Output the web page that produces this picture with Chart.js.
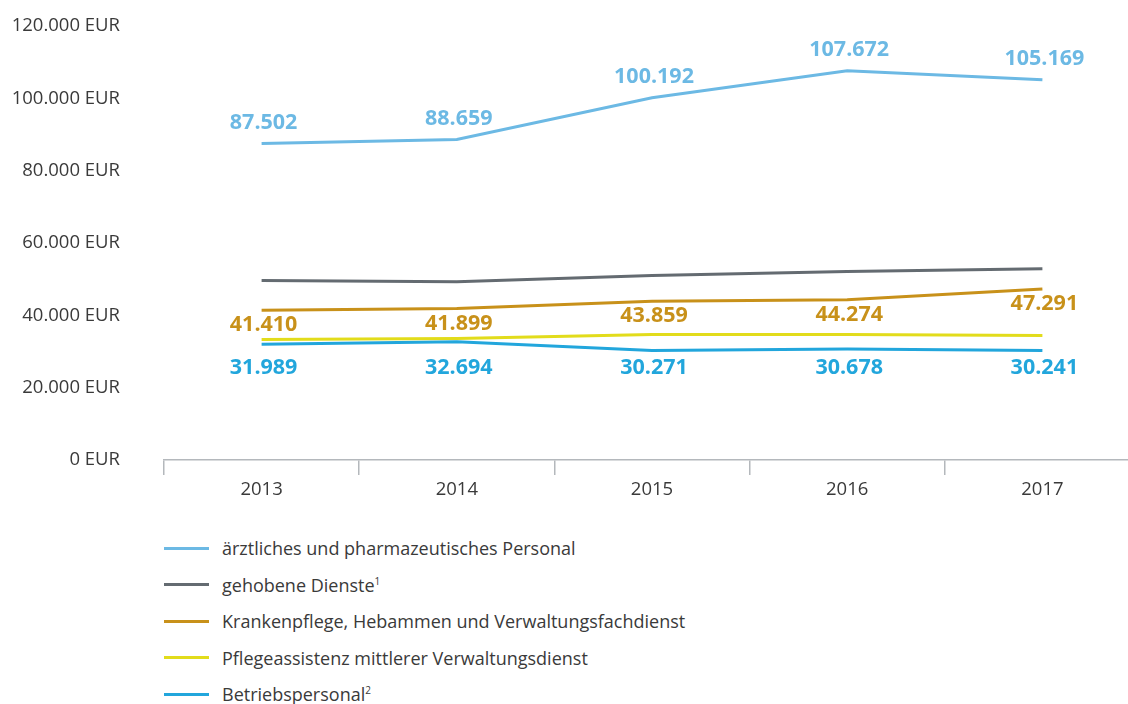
<!DOCTYPE html>
<html lang="de">
<head>
<meta charset="utf-8">
<script src="https://cdn.jsdelivr.net/npm/chart.js@4.4.1/dist/chart.umd.min.js"></script>
<style>
  html, body { margin: 0; padding: 0; background: #fff; overflow: hidden; }
  body { width: 1128px; height: 704px; font-family: 'Open Sans', sans-serif; position: relative; }
  #wrap { position: absolute; left: 0; top: -29px; width: 1140px; height: 544px; }
  #legend { position: absolute; left: 164px; top: 530px; color: #3a3a3a; font-size: 18px; }
  #legend .item { display: flex; align-items: center; height: 36.5px; }
  #legend .swatch { width: 45px; height: 3px; margin-right: 13px; }
  #legend sup { font-size: 10px; vertical-align: 7px; line-height: 0; }
</style>
</head>
<body>
<div id="wrap"><canvas id="chart"></canvas></div>
<div id="legend"></div>
<script>
const years = ['2013', '2014', '2015', '2016', '2017'];
const seriesNames = [
  'ärztliches und pharmazeutisches Personal',
  'gehobene Dienste<sup>1</sup>',
  'Krankenpflege, Hebammen und Verwaltungsfachdienst',
  'Pflegeassistenz mittlerer Verwaltungsdienst',
  'Betriebspersonal<sup>2</sup>'
];
const aerztlich = [87502, 88659, 100192, 107672, 105169];
const gehoben = [49600, 49300, 51000, 52100, 52900];
const krankenpflege = [41410, 41899, 43859, 44274, 47291];
const pflegeassistenz = [33300, 33600, 34700, 34700, 34400];
const betrieb = [31989, 32694, 30271, 30678, 30241];
const colors = ['#6cb9e4', '#646b71', '#c8911a', '#e2dc1b', '#22a6dc'];
// value labels: 'above' / 'below' the point, 'row' = one row under the lowest point
const labelModes = ['above', null, 'below', null, 'row'];

const fmt = v => v.toLocaleString('de-DE');

const valueLabels = {
  id: 'valueLabels',
  afterDatasetsDraw(chart) {
    const ctx = chart.ctx;
    ctx.save();
    ctx.font = 'bold 21.5px "Open Sans"';
    ctx.textAlign = 'center';
    ctx.textBaseline = 'middle';
    chart.data.datasets.forEach((ds, i) => {
      const mode = labelModes[i];
      if (!mode) return;
      const pts = chart.getDatasetMeta(i).data;
      const lowest = Math.max(...pts.map(p => p.y));
      ctx.fillStyle = ds.borderColor;
      pts.forEach((pt, j) => {
        let y = pt.y - 21;
        if (mode === 'below') y = pt.y + 15;
        if (mode === 'row') y = lowest + 17;
        ctx.fillText(fmt(ds.data[j]), pt.x + 2, y);
      });
    });
    ctx.restore();
  }
};

const allSeries = [aerztlich, gehoben, krankenpflege, pflegeassistenz, betrieb];

new Chart(document.getElementById('chart').getContext('2d'), {
  type: 'line',
  data: {
    labels: years,
    datasets: allSeries.map((d, i) => ({
      label: seriesNames[i],
      data: d,
      borderColor: colors[i],
      borderWidth: 3,
      pointRadius: 0,
      tension: 0
    }))
  },
  options: {
    responsive: true,
    maintainAspectRatio: false,
    animation: false,
    layout: { padding: { top: 14, right: 0, left: 0, bottom: 0 } },
    plugins: { legend: { display: false }, tooltip: { enabled: false } },
    scales: {
      x: {
        offset: true,
        grid: { offset: true, drawOnChartArea: false, drawTicks: true, tickLength: 15, color: '#b4b8bc', lineWidth: 1.5 },
        border: { color: '#b4b8bc', width: 1.5 },
        ticks: { color: '#3a3a3a', font: { family: 'Open Sans', size: 18.5 }, padding: 4 }
      },
      y: {
        min: 0,
        max: 120000,
        grid: { display: false, drawTicks: false },
        border: { display: false },
        afterFit(scale) { scale.width = 164; },
        ticks: {
          stepSize: 20000,
          padding: 44,
          color: '#3a3a3a',
          font: { family: 'Open Sans', size: 18.5 },
          callback: v => fmt(v) + ' EUR'
        }
      }
    }
  },
  plugins: [valueLabels]
});

const legend = document.getElementById('legend');
seriesNames.forEach((name, i) => {
  const row = document.createElement('div');
  row.className = 'item';
  row.innerHTML = '<span class="swatch" style="background:' + colors[i] + '"></span><span>' + name + '</span>';
  legend.appendChild(row);
});
</script>
</body>
</html>
